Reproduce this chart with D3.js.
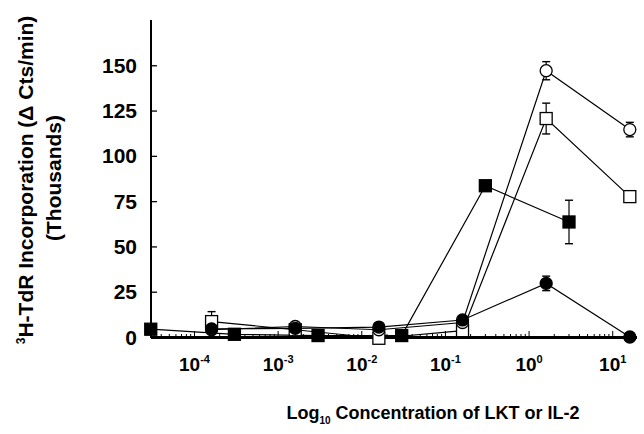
<!DOCTYPE html>
<html><head><meta charset="utf-8">
<script src="https://cdn.jsdelivr.net/npm/d3@7"></script>
<style>body{margin:0;background:#fff}svg{display:block}text{font-family:"Liberation Sans",Arial,sans-serif;font-weight:bold;fill:#000}</style>
</head><body><svg id="c" width="644" height="434"></svg>
<script>
// concentrations (x) for the two groups of points
const concA = [0.00016, 0.0016, 0.016, 0.16, 1.6, 16];
const concB = [0.00003, 0.0003, 0.003, 0.03, 0.3, 3];
// series values (thousands of cts/min) and error half-widths
const openCircle = [4, 5.8, 4, 8, 147, 114.5];
const openCircleErr = [0, 0, 0, 0, 5, 4];
const openSquare = [8.5, 4, -0.7, 3.5, 120.6, 77.5];
const openSquareErr = [5.5, 0, 0, 0, 8.5, 0];
const filledCircle = [4.5, 4.8, 5.5, 9.4, 29.6, 0];
const filledCircleErr = [0, 0, 0, 0, 4, 0];
const filledSquare = [4.3, 1.5, 0.8, 0.8, 83.5, 63.5];
const filledSquareErr = [0, 0, 0, 0, 0, 12];
const yTicks = [0, 25, 50, 75, 100, 125, 150];
const xTickExps = [-4, -3, -2, -1, 0, 1];

const svg = d3.select("#c");
const x = d3.scaleLog().domain([Math.pow(10, -4.52), Math.pow(10, 1.29)]).range([151, 637]);
const y = d3.scaleLinear().domain([0, 175]).range([337, 20]);

// y axis
const yAxis = d3.axisRight(y).tickValues(yTicks.filter(d => d > 0)).tickSize(6).tickFormat("");
const gy = svg.append("g").attr("transform", "translate(151,0)").call(yAxis);
gy.select(".domain").remove();
gy.selectAll("line").attr("stroke", "#000").attr("stroke-width", 1.3);
svg.append("line").attr("x1", 151).attr("x2", 151).attr("y1", y(175)).attr("y2", y(0) + 1).attr("stroke", "#000").attr("stroke-width", 2);
svg.append("g").selectAll("text").data(yTicks).join("text")
  .attr("x", 137).attr("y", d => y(d)).attr("dy", "0.36em").attr("text-anchor", "end")
  .attr("font-size", 21).text(d => d);

// x axis: minor ticks pointing up
const minor = [];
for (let e = -5; e <= 1; e++) for (let m = 1; m <= 9; m++) { const v = m * Math.pow(10, e); if (v >= x.domain()[0] && v <= x.domain()[1]) minor.push(v); }
svg.append("g").selectAll("line").data(minor).join("line")
  .attr("x1", d => x(d)).attr("x2", d => x(d))
  .attr("y1", y(0)).attr("y2", d => y(0) - (Math.abs(Math.log10(d) - Math.round(Math.log10(d))) < 1e-6 ? 6 : 3))
  .attr("stroke", "#000").attr("stroke-width", 1);
svg.append("line").attr("x1", 151).attr("x2", 637).attr("y1", y(0) + 0.5).attr("y2", y(0) + 0.5).attr("stroke", "#000").attr("stroke-width", 3.2);

const xl = svg.append("g").selectAll("text").data(xTickExps).join("text")
  .attr("x", d => x(Math.pow(10, d))).attr("y", 371).attr("text-anchor", "middle").attr("font-size", 19);
xl.append("tspan").text("10");
xl.append("tspan").attr("font-size", 11).attr("dy", -8).text(d => d);

// series
const series = [
  {c: concB, v: filledSquare, e: filledSquareErr, shape: "square", fill: "#000"},
  {c: concA, v: openSquare, e: openSquareErr, shape: "square", fill: "#fff"},
  {c: concA, v: openCircle, e: openCircleErr, shape: "circle", fill: "#fff"},
  {c: concA, v: filledCircle, e: filledCircleErr, shape: "circle", fill: "#000"}
];
const line = d3.line().x(d => x(d[0])).y(d => y(d[1]));
series.forEach(s => {
  svg.append("path").datum(s.c.map((c, i) => [c, s.v[i]])).attr("d", line)
    .attr("fill", "none").attr("stroke", "#000").attr("stroke-width", 1.2);
});
series.forEach(s => {
  const pts = s.c.map((c, i) => ({c, v: s.v[i], e: s.e[i]}));
  const eb = svg.append("g").selectAll("g").data(pts.filter(p => p.e > 0)).join("g");
  eb.append("line").attr("x1", p => x(p.c)).attr("x2", p => x(p.c)).attr("y1", p => y(p.v + p.e)).attr("y2", p => y(p.v - p.e)).attr("stroke", "#000").attr("stroke-width", 1.2);
  [1, -1].forEach(sg => eb.append("line").attr("x1", p => x(p.c) - 4).attr("x2", p => x(p.c) + 4)
    .attr("y1", p => y(p.v + sg * p.e)).attr("y2", p => y(p.v + sg * p.e)).attr("stroke", "#000").attr("stroke-width", 1.4));
});
series.forEach(s => {
  const pts = s.c.map((c, i) => ({c, v: s.v[i]}));
  const g = svg.append("g");
  if (s.shape === "square") {
    g.selectAll("rect").data(pts).join("rect")
      .attr("x", p => x(p.c) - 6).attr("y", p => y(p.v) - 6).attr("width", 12).attr("height", 12)
      .attr("fill", s.fill).attr("stroke", "#000").attr("stroke-width", 1.3);
  } else {
    g.selectAll("circle").data(pts).join("circle")
      .attr("cx", p => x(p.c)).attr("cy", p => y(p.v)).attr("r", 6)
      .attr("fill", s.fill).attr("stroke", "#000").attr("stroke-width", 1.3);
  }
});

// axis titles
const yt = svg.append("text").attr("transform", "translate(33,180) rotate(-90)").attr("text-anchor", "middle").attr("font-size", 21);
yt.append("tspan").attr("font-size", 12).attr("dy", -8).text("3");
yt.append("tspan").attr("dy", 8).text("H-TdR Incorporation (Δ Cts/min)");
svg.append("text").attr("transform", "translate(61,178) rotate(-90)").attr("text-anchor", "middle").attr("font-size", 21).text("(Thousands)");

const xt = svg.append("text").attr("x", 433).attr("y", 419).attr("text-anchor", "middle").attr("font-size", 18);
xt.append("tspan").text("Log");
xt.append("tspan").attr("font-size", 10).attr("dy", 5).text("10");
xt.append("tspan").attr("dy", -5).text(" Concentration of LKT or IL-2");
</script></body></html>
